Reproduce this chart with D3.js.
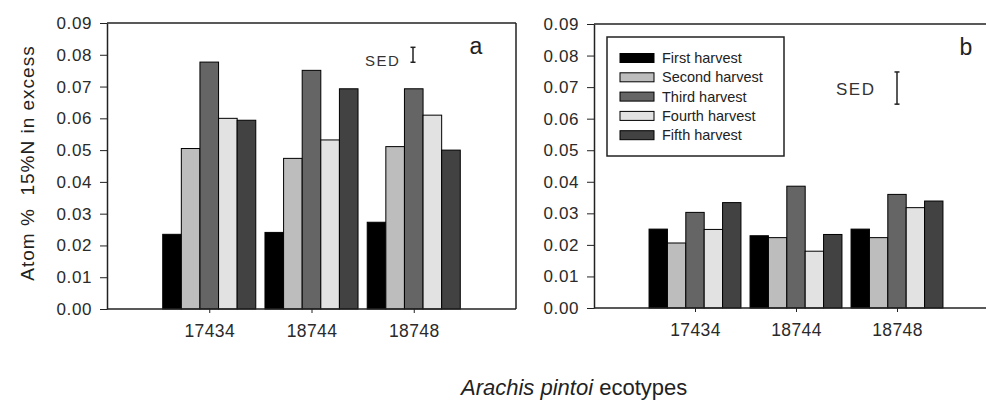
<!DOCTYPE html>
<html>
<head>
<meta charset="utf-8">
<script src="https://cdn.jsdelivr.net/npm/d3@7"></script>
<style>
body{margin:0;background:#fff;}
svg{display:block;font-family:"Liberation Sans",Arial,sans-serif;}
.axis path,.axis line{stroke:#222;}
.axis text{fill:#2a2a2a;}
</style>
</head>
<body>
<svg id="chart" width="986" height="400"></svg>
<script>
var ecotypes=['17434','18744','18748'];
var harvests=['First harvest','Second harvest','Third harvest','Fourth harvest','Fifth harvest'];
var fills=['#000000','#bdbdbd','#656565','#e2e2e2','#424242'];
// atom % 15N excess, panel a (rows = ecotypes, cols = harvests)
var valsA=[
  [0.0235,0.0505,0.0777,0.0600,0.0594],
  [0.0241,0.0474,0.0751,0.0532,0.0693],
  [0.0273,0.0511,0.0693,0.0610,0.0500]
];
// panel b
var valsB=[
  [0.0250,0.0206,0.0303,0.0249,0.0334],
  [0.0229,0.0223,0.0386,0.0180,0.0233],
  [0.0250,0.0223,0.0360,0.0318,0.0339]
];
var yTicks=[0,0.01,0.02,0.03,0.04,0.05,0.06,0.07,0.08,0.09];
var sedA=0.0047;
var sedB=0.0102;

var svg=d3.select('#chart');

function drawPanel(opt){
  var g=svg.append('g');
  var x=d3.scalePoint().domain(ecotypes).range([opt.left,opt.right]).padding(1);
  var y=d3.scaleLinear().domain([0,0.09]).range([opt.bottom,opt.top]);
  var half=x.step()*0.455;
  var inner=d3.scaleBand().domain(harvests).range([-half,half]).padding(0);
  var lineEnd=opt.closed?opt.right:opt.right+20;

  // frame
  g.append('line').attr('x1',opt.left).attr('x2',lineEnd).attr('y1',opt.top).attr('y2',opt.top)
    .attr('stroke','#222').attr('stroke-width',1.5);
  if(opt.closed){
    g.append('line').attr('x1',opt.right).attr('x2',opt.right).attr('y1',opt.top).attr('y2',opt.bottom)
      .attr('stroke','#222').attr('stroke-width',1.5);
  }

  // bars
  var grp=g.selectAll('.grp').data(opt.vals).enter().append('g')
    .attr('transform',function(d,i){return 'translate('+x(ecotypes[i])+',0)';});
  grp.selectAll('rect').data(function(d){return d;}).enter().append('rect')
    .attr('x',function(d,j){return inner(harvests[j]);})
    .attr('width',inner.bandwidth())
    .attr('y',function(d){return y(d);})
    .attr('height',function(d){return y(0)-y(d);})
    .attr('fill',function(d,j){return fills[j];})
    .attr('stroke','#000').attr('stroke-width',1);

  // axes
  var ya=g.append('g').attr('class','axis').attr('transform','translate('+opt.left+',0)')
    .call(d3.axisLeft(y).tickValues(yTicks).tickFormat(d3.format('.2f')).tickSize(7).tickPadding(8).tickSizeOuter(0));
  ya.select('.domain').attr('stroke-width',1.5);
  ya.selectAll('text').style('font-size','17px').style('letter-spacing','0.6px');

  var xa=g.append('g').attr('class','axis').attr('transform','translate(0,'+opt.bottom+')')
    .call(d3.axisBottom(x).tickSize(4).tickPadding(12).tickSizeOuter(0));
  xa.select('.domain').attr('d','M'+opt.left+',0H'+lineEnd).attr('stroke-width',1.5);
  xa.selectAll('text').style('font-size','17.5px').style('letter-spacing','0.4px');

  // panel letter
  g.append('text').attr('x',opt.letterX).attr('y',opt.top+31).text(opt.letter)
    .style('font-size','23px').attr('fill','#222').attr('text-anchor','middle');

  // SED bar
  var ex=opt.sedX;
  var y1=y(opt.sedAt+opt.sed/2), y2=y(opt.sedAt-opt.sed/2);
  g.append('line').attr('x1',ex).attr('x2',ex).attr('y1',y1).attr('y2',y2).attr('stroke','#222').attr('stroke-width',1.5);
  g.append('line').attr('x1',ex-2.5).attr('x2',ex+2.5).attr('y1',y1).attr('y2',y1).attr('stroke','#222').attr('stroke-width',1.5);
  g.append('line').attr('x1',ex-2.5).attr('x2',ex+2.5).attr('y1',y2).attr('y2',y2).attr('stroke','#222').attr('stroke-width',1.5);
  g.append('text').attr('x',opt.sedTextX).attr('y',opt.sedTextY).text('SED')
    .style('font-size',opt.sedFont).style('letter-spacing','1.5px').attr('fill','#333');

  return {x:x,y:y};
}

drawPanel({left:107,right:516,top:23,bottom:309,vals:valsA,closed:true,letter:'a',letterX:476,
  sed:sedA,sedAt:0.0800,sedX:413,sedTextX:365,sedTextY:66,sedFont:'15px'});
drawPanel({left:594,right:998,top:24,bottom:308,vals:valsB,closed:false,letter:'b',letterX:966,
  sed:sedB,sedAt:0.0697,sedX:897,sedTextX:836,sedTextY:95,sedFont:'17px'});

// legend
var lg=svg.append('g').attr('transform','translate(607,37)');
lg.append('rect').attr('width',177).attr('height',119).attr('fill','#fff').attr('stroke','#222').attr('stroke-width',1.5);
var item=lg.selectAll('.item').data(harvests).enter().append('g')
  .attr('transform',function(d,i){return 'translate(13,'+(16.5+i*19.3)+')';});
item.append('rect').attr('width',34).attr('height',9).attr('fill',function(d,i){return fills[i];})
  .attr('stroke','#000').attr('stroke-width',1);
item.append('text').attr('x',42).attr('y',9.5).text(function(d){return d;})
  .style('font-size','14.5px').attr('fill','#222');

// axis titles
svg.append('text').attr('transform','translate(34,163) rotate(-90)').attr('text-anchor','middle')
  .style('font-size','19px').style('letter-spacing','1px').attr('fill','#222')
  .text('Atom %\u00a0\u00a015%N in excess');
var xt=svg.append('text').attr('x',461).attr('y',395).style('font-size','22px').attr('fill','#222');
xt.append('tspan').style('font-style','italic').text('Arachis pintoi');
xt.append('tspan').text(' ecotypes');
</script>
</body>
</html>
